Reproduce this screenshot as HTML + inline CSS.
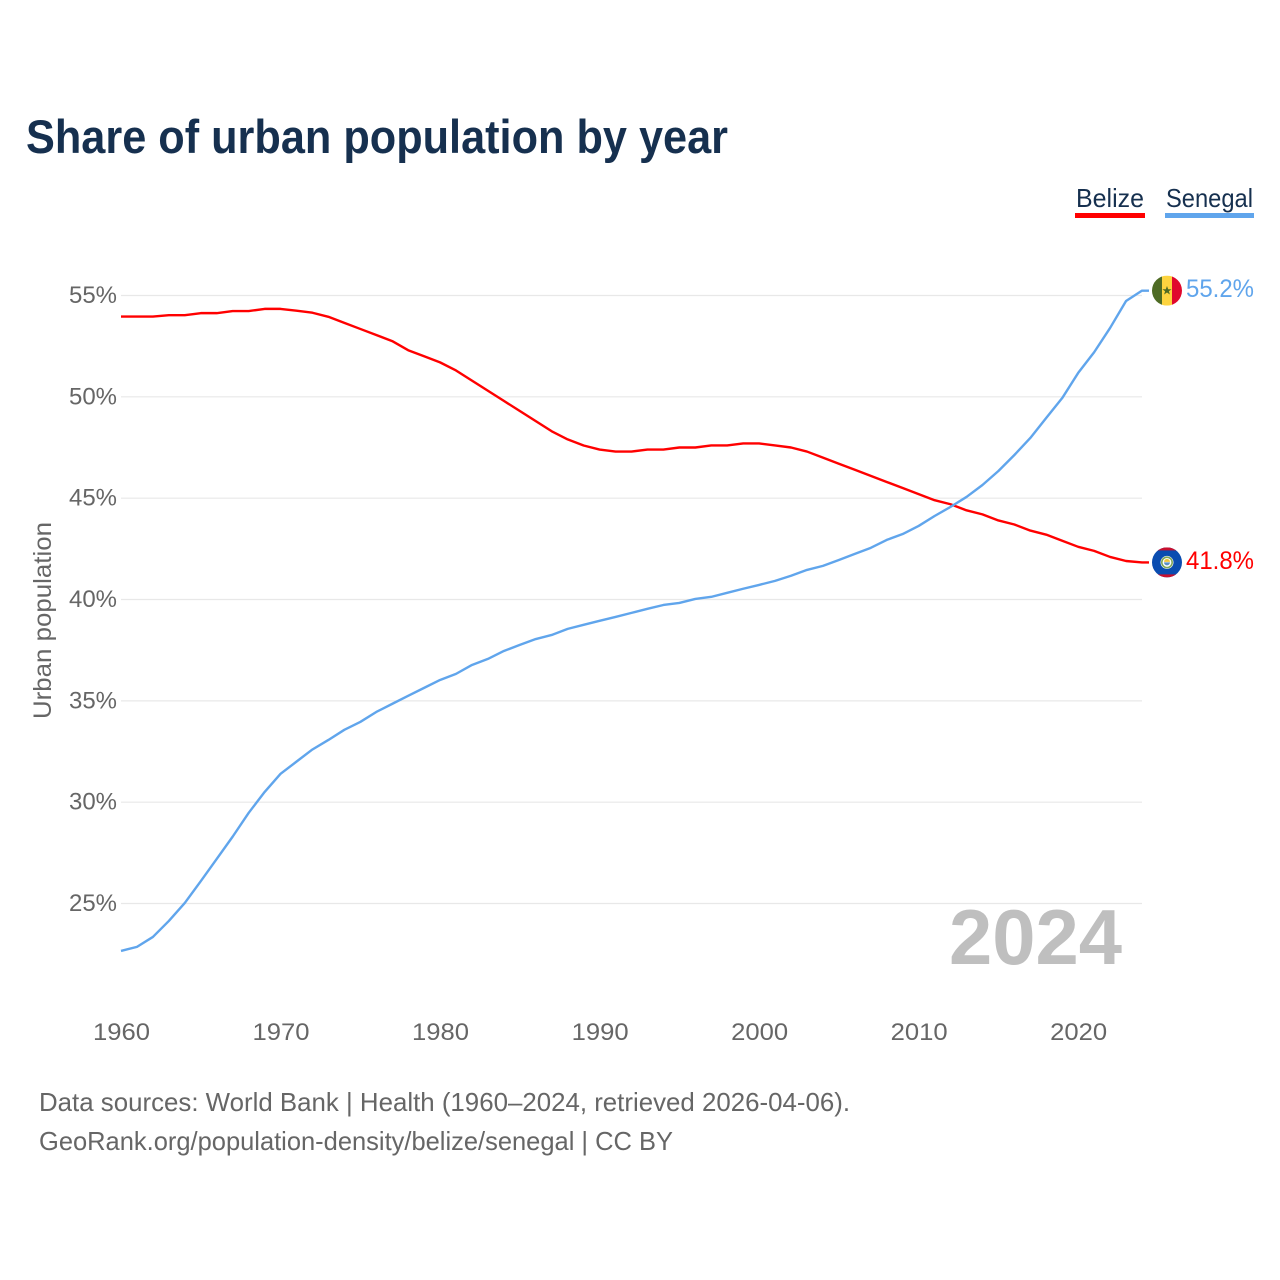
<!DOCTYPE html>
<html lang="en">
<head>
<meta charset="utf-8">
<title>Share of urban population by year</title>
<style>
html,body{margin:0;padding:0;background:#fff;width:1280px;height:1280px;overflow:hidden}
svg{display:block;font-family:"Liberation Sans",sans-serif}
</style>
</head>
<body>
<svg id="chart" width="1280" height="1280" viewBox="0 0 1280 1280" xmlns="http://www.w3.org/2000/svg">
  <defs>
    <clipPath id="clip-flag"><circle cx="0" cy="0" r="15"/></clipPath>
  </defs>
  <rect width="1280" height="1280" fill="#fff"/>
  <text x="26" y="153" font-size="47" font-weight="700" fill="#16304f" textLength="702" lengthAdjust="spacingAndGlyphs">Share of urban population by year</text>

  <g>
    <g>
      <text x="1076" y="207" font-size="26" fill="#16304f" textLength="68" lengthAdjust="spacingAndGlyphs">Belize</text>
      <rect x="1075" y="213" width="70" height="5" fill="#ff0000"/>
    </g>
    <g>
      <text x="1166" y="207" font-size="26" fill="#16304f" textLength="87" lengthAdjust="spacingAndGlyphs">Senegal</text>
      <rect x="1165" y="213" width="89" height="5" fill="#60a5ec"/>
    </g>
  </g>

  <g id="grid"></g>
  <g id="y-axis"></g>
  <g id="x-axis"></g>
  <text transform="translate(51,719) rotate(-90)" font-size="25" fill="#666" textLength="197" lengthAdjust="spacingAndGlyphs">Urban population</text>

  <text x="949" y="964" font-size="78" font-weight="700" fill="#bfbfbf" textLength="173" lengthAdjust="spacingAndGlyphs">2024</text>

  <path id="line-belize" fill="none" stroke="#ff0000" stroke-width="2.4" stroke-linejoin="round"/>
  <path id="line-senegal" fill="none" stroke="#60a5ec" stroke-width="2.4" stroke-linejoin="round"/>

  <g id="flag-senegal">
    <g clip-path="url(#clip-flag)">
      <rect x="-15" y="-15" width="10" height="30" fill="#4e6b24"/>
      <rect x="-5" y="-15" width="10" height="30" fill="#fdd43f"/>
      <rect x="5" y="-15" width="10" height="30" fill="#e0082d"/>
      <polygon points="0,-4.6 1.2,-1.4 4.6,-1.4 1.9,0.6 2.9,3.9 0,1.9 -2.9,3.9 -1.9,0.6 -4.6,-1.4 -1.2,-1.4" fill="#4e6b24"/>
    </g>
  </g>
  <g id="flag-belize">
    <g clip-path="url(#clip-flag)">
      <rect x="-15" y="-15" width="30" height="30" fill="#0a4cb0"/>
      <rect x="-15" y="-15" width="30" height="3" fill="#c8102e"/>
      <rect x="-15" y="12" width="30" height="3" fill="#c8102e"/>
      <circle r="6.5" fill="#fff"/>
      <circle r="5.2" fill="none" stroke="#7fa65a" stroke-width="1.6"/>
      <path d="M-3,-0.5 A3,3 0 0 1 3,-0.5 Z" fill="#f2c53d"/>
      <path d="M-3,0 A3,3 0 0 0 3,0 Z" fill="#5b8fc7"/>
    </g>
  </g>
  <text id="value-senegal" x="1186" font-size="25" fill="#60a5ec" textLength="68" lengthAdjust="spacingAndGlyphs"></text>
  <text id="value-belize" x="1186" font-size="25" fill="#ff0000" textLength="68" lengthAdjust="spacingAndGlyphs"></text>

  <g>
    <text x="39" y="1111" font-size="26" fill="#666" textLength="811" lengthAdjust="spacingAndGlyphs">Data sources: World Bank | Health (1960–2024, retrieved 2026-04-06).</text>
    <text x="39" y="1150" font-size="26" fill="#666" textLength="634" lengthAdjust="spacingAndGlyphs">GeoRank.org/population-density/belize/senegal | CC BY</text>
  </g>
</svg>
<script>
const startYear = 1960;
const belize = [53.96,53.96,53.96,54.03,54.03,54.13,54.13,54.23,54.23,54.34,54.34,54.25,54.15,53.95,53.65,53.35,53.05,52.75,52.3,52.0,51.7,51.3,50.8,50.3,49.8,49.3,48.8,48.3,47.9,47.6,47.4,47.3,47.3,47.4,47.4,47.5,47.5,47.6,47.6,47.7,47.7,47.6,47.5,47.3,47.0,46.7,46.4,46.1,45.8,45.5,45.2,44.9,44.7,44.4,44.2,43.9,43.7,43.4,43.2,42.9,42.6,42.4,42.1,41.9,41.83];
const senegal = [22.66,22.86,23.35,24.14,25.03,26.1,27.2,28.3,29.47,30.5,31.4,32.0,32.6,33.07,33.57,33.96,34.45,34.85,35.25,35.64,36.03,36.33,36.77,37.07,37.46,37.76,38.05,38.25,38.55,38.75,38.95,39.14,39.34,39.54,39.73,39.83,40.03,40.13,40.33,40.53,40.72,40.92,41.17,41.46,41.66,41.95,42.25,42.55,42.94,43.23,43.63,44.12,44.57,45.06,45.65,46.34,47.13,47.97,48.96,49.94,51.18,52.2,53.4,54.73,55.24];
const yTicks = [25,30,35,40,45,50,55];
const xTicks = [1960,1970,1980,1990,2000,2010,2020];

const NS = 'http://www.w3.org/2000/svg';
function xScale(year){ return 121 + (year - 1960) * 15.953; }
function yScale(v){ return 295.5 + (55 - v) * 20.267; }
function linePath(values){
  let d = '';
  values.forEach(function(v,i){
    d += (i ? 'L' : 'M') + xScale(startYear + i).toFixed(2) + ' ' + yScale(v).toFixed(2);
  });
  const last = values[values.length - 1];
  d += 'L' + (xScale(startYear + values.length - 1) + 7).toFixed(2) + ' ' + yScale(last).toFixed(2);
  return d;
}

const grid = document.getElementById('grid');
const yAxis = document.getElementById('y-axis');
const xAxis = document.getElementById('x-axis');

yTicks.forEach(function(t){
  const line = document.createElementNS(NS,'line');
  
  
  line.setAttribute('x1', xScale(1960));
  line.setAttribute('x2', xScale(2024));
  line.setAttribute('y1', yScale(t));
  line.setAttribute('y2', yScale(t));
  line.setAttribute('stroke', '#e8e8e8');
  line.setAttribute('stroke-width', '1.2');
  grid.appendChild(line);

  const label = document.createElementNS(NS,'text');
  
  
  label.setAttribute('x', 69);
  label.setAttribute('y', yScale(t) + 7.5);
  label.setAttribute('font-size', '24');
  label.setAttribute('fill', '#666');
  label.setAttribute('textLength', '48');
  label.setAttribute('lengthAdjust', 'spacingAndGlyphs');
  label.textContent = t + '%';
  yAxis.appendChild(label);
});

xTicks.forEach(function(t){
  const label = document.createElementNS(NS,'text');
  
  
  label.setAttribute('x', xScale(t) - 28);
  label.setAttribute('y', 1040);
  label.setAttribute('font-size', '24');
  label.setAttribute('fill', '#666');
  label.setAttribute('textLength', '57');
  label.setAttribute('lengthAdjust', 'spacingAndGlyphs');
  label.textContent = t;
  xAxis.appendChild(label);
});

document.getElementById('line-belize').setAttribute('d', linePath(belize));
document.getElementById('line-senegal').setAttribute('d', linePath(senegal));

const lastBelize = belize[belize.length - 1];
const lastSenegal = senegal[senegal.length - 1];
const endX = xScale(startYear + belize.length - 1) + 25;
document.getElementById('flag-belize').setAttribute('transform', 'translate(' + endX + ',' + yScale(lastBelize) + ')');
document.getElementById('flag-senegal').setAttribute('transform', 'translate(' + endX + ',' + yScale(lastSenegal) + ')');
const vb = document.getElementById('value-belize');
vb.setAttribute('y', yScale(lastBelize) + 6.5);
vb.textContent = lastBelize.toFixed(1) + '%';
const vs = document.getElementById('value-senegal');
vs.setAttribute('y', yScale(lastSenegal) + 6.5);
vs.textContent = lastSenegal.toFixed(1) + '%';
</script>
</body>
</html>
